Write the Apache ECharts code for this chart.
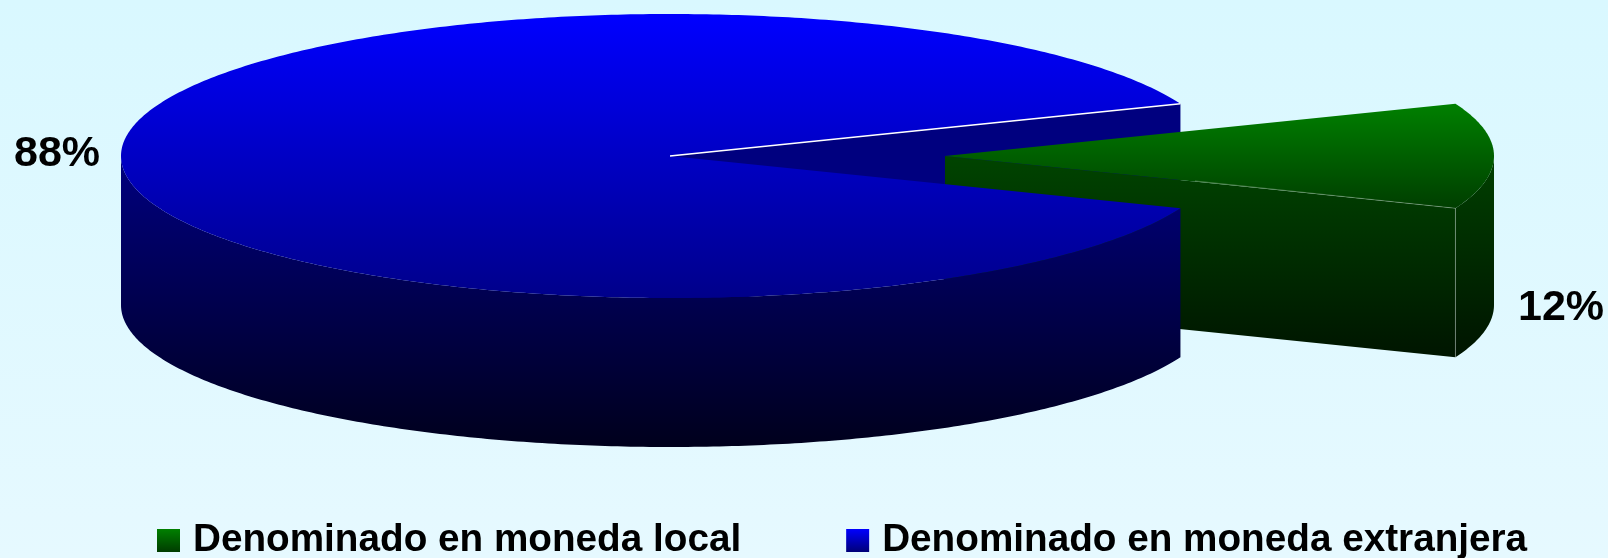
<!DOCTYPE html>
<html><head><meta charset="utf-8">
<style>html,body{margin:0;padding:0;background:#dff9ff}#c{width:1608px;height:558px}</style>
<script src="https://cdn.jsdelivr.net/npm/echarts@6/dist/echarts.min.js"></script>
</head><body><div id="c"></div>
<script>
const categories = ['Denominado en moneda local', 'Denominado en moneda extranjera'];
const shares = [12, 88];
const labels = ['12%', '88%'];

const geo = {cx: 670, cy: 156, a: 549, b: 142, h: 149, explode: 275};
const total = shares.reduce((s, v) => s + v, 0);
const half = shares[0] / total * 180;           // the first slice is centred on the right
const pt = (ox, t, dy) => {
  const r = t * Math.PI / 180;
  return [ox + geo.a * Math.cos(r), geo.cy - geo.b * Math.sin(r) + (dy || 0)];
};
const arc = (ox, from, to, dy) => {
  const out = [], n = Math.max(2, Math.ceil(Math.abs(to - from) * 1.5));
  for (let i = 0; i <= n; i++) out.push(pt(ox, from + (to - from) * i / n, dy));
  return out;
};
const grad = (y0, y1, c0, c1) => new echarts.graphic.LinearGradient(0, y0, 0, y1,
  [{offset: 0, color: c0}, {offset: 1, color: c1}], true);
const poly = (points, fill, extra) => ({type: 'polygon', silent: true,
  shape: {points}, style: Object.assign({fill, stroke: null}, extra || {})});
const edge = (a, b, stroke, w) => ({type: 'line', silent: true,
  shape: {x1: a[0], y1: a[1], x2: b[0], y2: b[1]}, style: {stroke, lineWidth: w}});
const text = (str, x, y) => ({type: 'text', silent: true, z2: 50,
  style: {text: str, x, y, align: 'center', verticalAlign: 'middle',
    font: 'bold 43px "Liberation Sans", Arial, sans-serif', fill: '#000'}});

function renderBlueInner() {
  const c = [geo.cx, geo.cy], e = pt(geo.cx, half);
  return {type: 'group', children: [
    poly([c, e, [e[0], e[1] + geo.h], [c[0], c[1] + geo.h]], '#00007f')
  ]};
}
function renderGreen() {
  const ox = geo.cx + geo.explode, apex = [ox, geo.cy];
  const lo = pt(ox, -half), hi = pt(ox, half);
  const wallTop = arc(ox, -half, 0), wallBot = arc(ox, -half, 0, geo.h);
  return {type: 'group', children: [
    poly(wallTop.concat(wallBot.reverse()), grad(geo.cy, geo.cy + 201, '#004000', '#001400')),
    poly([apex, lo, [lo[0], lo[1] + geo.h], [apex[0], apex[1] + geo.h]], grad(geo.cy, lo[1] + geo.h, '#004400', '#001500')),
    poly([apex].concat(arc(ox, -half, half)), grad(hi[1], lo[1], '#008000', '#003e00')),
    edge(lo, [lo[0], lo[1] + geo.h], 'rgba(255,255,255,0.28)', 1),
    edge([ox + 250, apex[1] + 25], lo, 'rgba(255,255,255,0.28)', 1),
    text(labels[0], 1561, 308)
  ]};
}
function renderBlueOuter() {
  const c = [geo.cx, geo.cy];
  const wallTop = arc(geo.cx, 180, 360 - half), wallBot = arc(geo.cx, 180, 360 - half, geo.h);
  return {type: 'group', children: [
    poly(wallTop.concat(wallBot.reverse()), grad(geo.cy, geo.cy + geo.b + geo.h, '#000080', '#00001c')),
    poly([c].concat(arc(geo.cx, half, 360 - half)), grad(geo.cy - geo.b, geo.cy + geo.b, '#0000ff', '#00008a')),
    edge(c, pt(geo.cx, half), '#ffffff', 1.4),
    text(labels[1], 57, 154)
  ]};
}

const chart = echarts.init(document.getElementById('c'));
chart.setOption({
  animation: false,
  backgroundColor: new echarts.graphic.LinearGradient(0, 0, 0, 1,
    [{offset: 0, color: '#d9f8ff'}, {offset: 1, color: '#e6f9ff'}]),
  legend: {
    left: 157, top: 521, orient: 'horizontal', selectedMode: false,
    itemWidth: 23, itemHeight: 23, itemGap: 105, padding: 0,
    textStyle: {fontFamily: '"Liberation Sans", Arial, sans-serif', fontWeight: 'bold', fontSize: 38.7, color: '#000', padding: [4, 0, 0, 8]},
    data: [
      {name: categories[0], icon: 'rect', itemStyle: {color: new echarts.graphic.LinearGradient(0, 0, 0, 1, [{offset: 0, color: '#008000'}, {offset: 1, color: '#003c00'}])}},
      {name: categories[1], icon: 'rect', itemStyle: {color: new echarts.graphic.LinearGradient(0, 0, 0, 1, [{offset: 0, color: '#0000ff'}, {offset: 1, color: '#000078'}])}}
    ]
  },
  series: [
    {type: 'custom', name: 'cara', coordinateSystem: 'none', z: 1, data: [shares[1]], renderItem: renderBlueInner},
    {type: 'custom', name: categories[0], coordinateSystem: 'none', z: 2, data: [shares[0]], renderItem: renderGreen},
    {type: 'custom', name: categories[1], coordinateSystem: 'none', z: 3, data: [shares[1]], renderItem: renderBlueOuter}
  ]
});
</script></body></html>
